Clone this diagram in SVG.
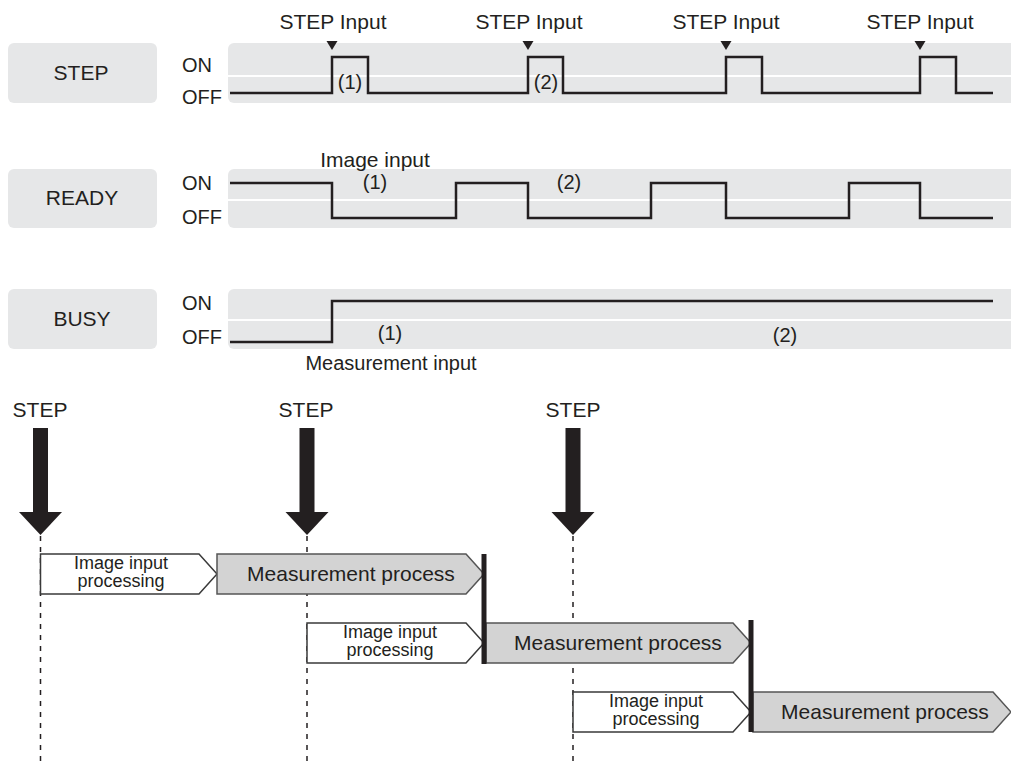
<svg xmlns="http://www.w3.org/2000/svg" width="1011" height="766" viewBox="0 0 1011 766">
<defs>
<style>
text{font-family:"Liberation Sans",Arial,sans-serif;fill:#231f20}
.t20{font-size:20px}
.t21{font-size:21px}
.t18{font-size:18px}
.lbl{fill:#e6e7e8}
.band{fill:#e6e7e8}
.sig{fill:none;stroke:#231f20;stroke-width:2.5;stroke-linejoin:miter}
.mark{fill:#231f20}
.dash{stroke:#231f20;stroke-width:1.5;stroke-dasharray:5 6;fill:none}
.img{fill:#fff;stroke:#3a3a3a;stroke-width:1.5}
.meas{fill:#d3d3d3;stroke:#555;stroke-width:1.5}
.bar{stroke:#231f20;stroke-width:5}
.arr{fill:#231f20}
</style>
</defs>
<rect width="1011" height="766" fill="#fff"/>

<!-- STEP row -->
<g id="step-row">
<rect class="lbl" x="8" y="43" width="149" height="60" rx="6"/>
<text class="t21" x="81" y="80" text-anchor="middle">STEP</text>
<text class="t20" x="182" y="72">ON</text>
<text class="t20" x="182" y="104">OFF</text>
<path class="band" d="M234,43H1011V75H228V49A6,6 0 0 1 234,43Z"/>
<path class="band" d="M228,77H1011V103H234A6,6 0 0 1 228,97Z"/>
</g>
<!-- READY row -->
<g id="ready-row">
<rect class="lbl" x="8" y="169" width="149" height="59" rx="6"/>
<text class="t21" x="82" y="205" text-anchor="middle">READY</text>
<text class="t20" x="182" y="190">ON</text>
<text class="t20" x="182" y="224">OFF</text>
<path class="band" d="M234,169H1011V199H228V175A6,6 0 0 1 234,169Z"/>
<path class="band" d="M228,201H1011V228H234A6,6 0 0 1 228,222Z"/>
</g>
<!-- BUSY row -->
<g id="busy-row">
<rect class="lbl" x="8" y="289" width="149" height="60" rx="6"/>
<text class="t21" x="82" y="326" text-anchor="middle">BUSY</text>
<text class="t20" x="182" y="310">ON</text>
<text class="t20" x="182" y="344">OFF</text>
<path class="band" d="M234,289H1011V319H228V295A6,6 0 0 1 234,289Z"/>
<path class="band" d="M228,321H1011V349H234A6,6 0 0 1 228,343Z"/>
</g>

<!-- waveform labels -->
<g id="wave-labels">
<text class="t21" x="333" y="29" text-anchor="middle">STEP Input</text>
<text class="t21" x="529" y="29" text-anchor="middle">STEP Input</text>
<text class="t21" x="726" y="29" text-anchor="middle">STEP Input</text>
<text class="t21" x="920" y="29" text-anchor="middle">STEP Input</text>
<polygon class="mark" points="326.5,41 337.5,41 332,50"/>
<polygon class="mark" points="522.5,41 533.5,41 528,50"/>
<polygon class="mark" points="720.5,41 731.5,41 726,50"/>
<polygon class="mark" points="914.5,41 925.5,41 920,50"/>
<text class="t20" x="350" y="89" text-anchor="middle">(1)</text>
<text class="t20" x="546" y="89" text-anchor="middle">(2)</text>
<text class="t21" x="375" y="167" text-anchor="middle">Image input</text>
<text class="t20" x="375" y="189" text-anchor="middle">(1)</text>
<text class="t20" x="569" y="189" text-anchor="middle">(2)</text>
<text class="t20" x="390" y="340" text-anchor="middle">(1)</text>
<text class="t20" x="785" y="342" text-anchor="middle">(2)</text>
<text class="t20" x="391" y="370" text-anchor="middle">Measurement input</text>
</g>

<!-- signals -->
<g id="connectors">
<path class="sig" d="M230,93H332V57H368V93H528V57H563V93H726V57H762V93H920V57H956V93H993"/>
<path class="sig" d="M230,183H332V218H456V183H528V218H651V183H726V218H849V183H920V218H993"/>
<path class="sig" d="M230,342H332V301H993"/>

<!-- dashed timelines -->
<line class="dash" x1="40.5" y1="536" x2="40.5" y2="766"/>
<line class="dash" x1="307" y1="536" x2="307" y2="766"/>
<line class="dash" x1="573" y1="536" x2="573" y2="766"/>

<!-- STEP arrows -->
<rect class="arr" x="33" y="428" width="15" height="85"/>
<polygon class="arr" points="19,512 62,512 40.5,535"/>
<rect class="arr" x="299.5" y="428" width="15" height="85"/>
<polygon class="arr" points="285.5,512 328.5,512 307,535"/>
<rect class="arr" x="565.5" y="428" width="15" height="85"/>
<polygon class="arr" points="551.5,512 594.5,512 573,535"/>
</g>

<g id="step-labels">
<text class="t21" x="40" y="417" text-anchor="middle">STEP</text>
<text class="t21" x="306" y="417" text-anchor="middle">STEP</text>
<text class="t21" x="573" y="417" text-anchor="middle">STEP</text>
</g>

<!-- process boxes -->
<g id="img1">
<polygon class="img" points="40.5,554 199,554 217,574 199,594 40.5,594"/>
<text class="t18" text-anchor="middle"><tspan x="121" y="569">Image input</tspan><tspan x="121" y="587">processing</tspan></text>
</g>
<g id="meas1">
<polygon class="meas" points="217,554 466,554 484,574 466,594 217,594"/>
<text class="t21" x="351" y="581" text-anchor="middle">Measurement process</text>
</g>
<g id="img2">
<polygon class="img" points="307,623 466,623 484,643 466,663 307,663"/>
<text class="t18" text-anchor="middle"><tspan x="390" y="638">Image input</tspan><tspan x="390" y="656">processing</tspan></text>
</g>
<g id="meas2">
<polygon class="meas" points="486,623 733,623 751,643 733,663 486,663"/>
<text class="t21" x="618" y="650" text-anchor="middle">Measurement process</text>
</g>
<g id="img3">
<polygon class="img" points="573,692 733,692 751,712 733,732 573,732"/>
<text class="t18" text-anchor="middle"><tspan x="656" y="707">Image input</tspan><tspan x="656" y="725">processing</tspan></text>
</g>
<g id="meas3">
<polygon class="meas" points="753,692 993,692 1011,712 993,732 753,732"/>
<text class="t21" x="885" y="719" text-anchor="middle">Measurement process</text>
</g>
<g id="sync-bars">
<line class="bar" x1="484" y1="554" x2="484" y2="664"/>
<line class="bar" x1="751" y1="620" x2="751" y2="732"/>
</g>
</svg>
